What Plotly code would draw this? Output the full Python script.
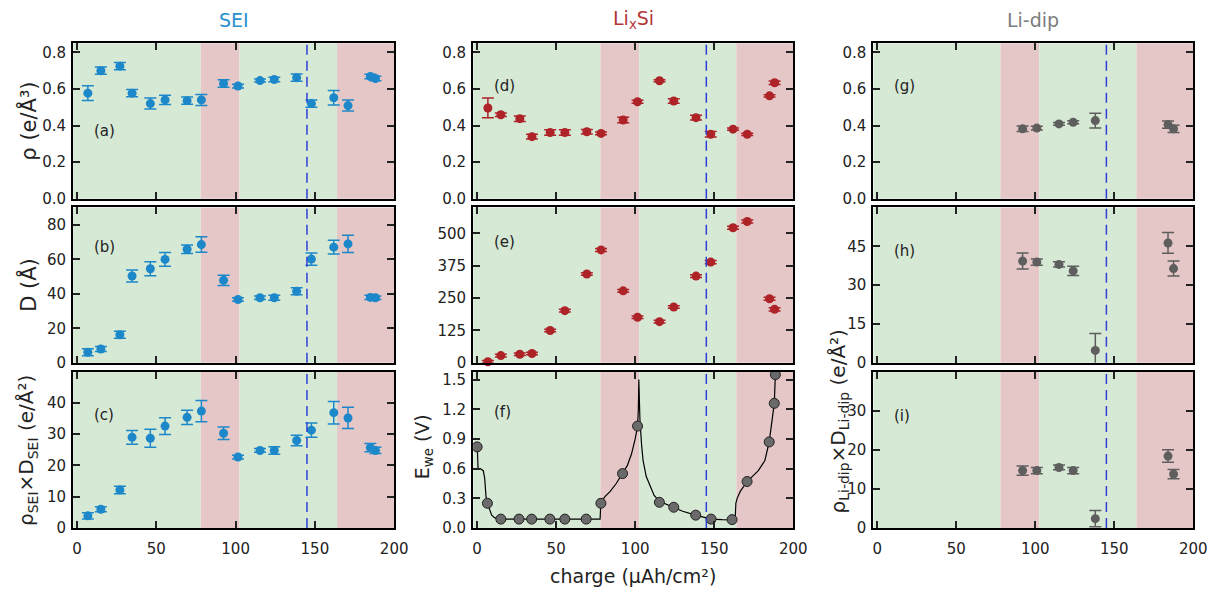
import plotly.graph_objects as go

# ---------------- data ----------------
charge = [6.8, 15, 27, 34.7, 46.2, 55.5, 69.4, 78.4, 92.4, 101.5, 115.4, 124.4, 138.5, 147.8, 161.9, 170.9, 185, 188.2]

sei_rho = [0.577, 0.70, 0.725, 0.577, 0.52, 0.54, 0.536, 0.54, 0.63, 0.616, 0.646, 0.652, 0.662, 0.52, 0.552, 0.509, 0.668, 0.657]
sei_rho_err = [0.04, 0.02, 0.02, 0.02, 0.03, 0.025, 0.02, 0.03, 0.02, 0.01, 0.008, 0.012, 0.02, 0.02, 0.04, 0.03, 0.012, 0.012]
sei_D = [6.1, 8.0, 16.3, 50.3, 54.5, 59.9, 65.8, 68.5, 47.8, 36.7, 37.7, 37.7, 41.5, 60.1, 67.0, 68.9, 37.9, 37.7]
sei_D_err = [2, 1.5, 2, 3.5, 4, 4, 2.5, 4.5, 3, 1, 1, 1.5, 2, 3.5, 4, 5, 1.2, 1]
sei_rD = [3.9, 6.0, 12.2, 29.0, 28.7, 32.6, 35.4, 37.4, 30.3, 22.7, 24.8, 24.8, 28.0, 31.3, 36.9, 35.2, 25.7, 24.8]
sei_rD_err = [1, 0.8, 1.2, 2.2, 2.9, 2.7, 2.3, 3.4, 2, 0.6, 0.6, 1.2, 1.7, 2.3, 3.6, 3.4, 1.3, 1]

lisi_rho = [0.496, 0.459, 0.4375, 0.339, 0.362, 0.362, 0.366, 0.357, 0.43, 0.53, 0.645, 0.534, 0.443, 0.352, 0.38, 0.352, 0.5625, 0.634]
lisi_rho_err = [0.054, 0.01, 0.015, 0.013, 0.015, 0.015, 0.012, 0.008, 0.015, 0.008, 0.006, 0.012, 0.013, 0.015, 0.006, 0.006, 0.006, 0.01]
lisi_D = [4, 28, 33, 36, 125, 201.5, 343, 436, 278, 176, 159, 215.6, 335, 389, 521.7, 546, 247.4, 206.6]
lisi_D_err = [5, 5, 5, 5, 5, 5, 5, 6, 5, 5, 5, 5, 5, 6, 6, 6, 6, 6]

ewe_x = [0, 6.5, 15, 26.5, 34.5, 46, 55.5, 69, 78.3, 92, 101.5, 115.3, 124.4, 138.3, 148, 161.3, 170.8, 184.8, 188, 188.7]
ewe_y = [0.82, 0.25, 0.09, 0.09, 0.09, 0.09, 0.09, 0.09, 0.25, 0.55, 1.03, 0.26, 0.21, 0.13, 0.09, 0.085, 0.47, 0.87, 1.26, 1.55]

curve_x = [0, 0.3, 0.6, 2, 3.9, 4.8, 5.6, 6.5, 7.5, 9.2, 11, 12.5, 15, 30, 50, 70, 77.8, 78.1, 78.3, 81, 84.2, 88, 92, 95,
           97.7, 100, 101.5, 102.0, 102.3, 102.5, 103, 104, 105, 107, 109.6, 112, 115.3, 120, 124.4, 130, 138.3, 143,
           148, 155, 161.3, 163.3, 163.7, 164.5, 166.5, 170.8, 174, 177.9, 182, 184.8, 186.7, 188, 188.7]
curve_y = [0.85, 0.62, 0.6, 0.6, 0.58, 0.5, 0.32, 0.25, 0.2, 0.13, 0.105, 0.095, 0.09, 0.09, 0.09, 0.09, 0.09, 0.2, 0.26,
           0.32, 0.37, 0.45, 0.55, 0.63, 0.75, 0.9, 1.03, 1.2, 1.5, 1.3, 1.1, 0.85, 0.68, 0.52, 0.42, 0.33, 0.27, 0.24,
           0.21, 0.17, 0.13, 0.11, 0.09, 0.085, 0.083, 0.09, 0.25, 0.3, 0.37, 0.47, 0.52, 0.58, 0.68, 0.87, 1.1, 1.26, 1.55]

lidip_x = [92, 101, 115, 124, 138, 184, 187.5]
lidip_rho = [0.382, 0.386, 0.409, 0.418, 0.427, 0.405, 0.382]
lidip_rho_err = [0.015, 0.01, 0.008, 0.008, 0.04, 0.02, 0.02]
lidip_D = [39.3, 38.9, 38.0, 35.5, 4.8, 46.3, 36.4]
lidip_D_err = [3.1, 1.2, 1, 1.8, 6.5, 4, 2.9]
lidip_rD = [14.7, 14.7, 15.5, 14.7, 2.4, 18.4, 13.8]
lidip_rD_err = [1.2, 0.8, 0.6, 0.8, 2.1, 1.6, 1.2]

x_ticks = [0, 50, 100, 150, 200]
regions = [(-2.5, 78, "green"), (78, 102.5, "red"), (102.5, 164, "green"), (164, 200, "red")]
dash_x = 145

# ---------------- style ----------------
W, H = 1232, 597
BLUE = "#1d88c9"
RED = "#ad2328"
GRAY = "#5e5e5e"
GREEN_BG = "#d6e9d5"
RED_BG = "#e5c7c7"
FONT = "DejaVu Sans"

col_x = [(73, 398), (478, 802), (883, 1207)]
row_y = [(43, 201), (210, 368), (377, 536)]

yspecs = {
    1: dict(range=[0, 0.85], tickvals=[0, 0.2, 0.4, 0.6, 0.8], tickformat=".1f"),
    2: dict(range=[0, 90], tickvals=[0, 20, 40, 60, 80]),
    3: dict(range=[0, 50], tickvals=[0, 10, 20, 30, 40]),
    4: dict(range=[0, 0.85], tickvals=[0, 0.2, 0.4, 0.6, 0.8], tickformat=".1f"),
    5: dict(range=[0, 600], tickvals=[0, 125, 250, 375, 500]),
    6: dict(range=[0, 1.58], tickvals=[0, 0.3, 0.6, 0.9, 1.2, 1.5], tickformat=".1f"),
    7: dict(range=[0, 0.85], tickvals=[0, 0.2, 0.4, 0.6, 0.8], tickformat=".1f"),
    8: dict(range=[0, 60], tickvals=[0, 15, 30, 45]),
    9: dict(range=[0, 40], tickvals=[0, 10, 20, 30]),
}

fig = go.Figure()
layout = dict(width=W, height=H, margin=dict(l=0, r=0, t=0, b=0), paper_bgcolor="white",
              plot_bgcolor="rgba(0,0,0,0)", showlegend=False, font=dict(family=FONT, size=15, color="#222"))
shapes = []
annotations = []

for c in range(3):
    for r in range(3):
        k = c * 3 + r + 1
        sfx = "" if k == 1 else str(k)
        x0, x1 = col_x[c]
        y0, y1 = row_y[r]
        layout["xaxis" + sfx] = dict(
            domain=[x0 / W, x1 / W], range=[-2.5, 200], tickvals=x_ticks,
            showticklabels=(r == 2), ticks="inside", ticklen=7, tickwidth=1.5, tickcolor="#222",
            ticklabelstandoff=6,
            showline=True, linewidth=2, linecolor="black", mirror="allticks",
            showgrid=False, zeroline=False, anchor="y" + sfx,
            tickfont=dict(family=FONT, size=15, color="#222"))
        ys = yspecs[k]
        layout["yaxis" + sfx] = dict(
            domain=[1 - y1 / H, 1 - y0 / H], ticks="inside", ticklen=7, tickwidth=1.5, tickcolor="#222",
            ticklabelstandoff=2,
            showline=True, linewidth=2, linecolor="black", mirror="allticks",
            showgrid=False, zeroline=False, anchor="x" + sfx,
            tickfont=dict(family=FONT, size=15, color="#222"), **ys)
        for a, b, kind in regions:
            shapes.append(dict(type="rect", xref="x" + sfx, yref="y" + sfx + " domain", x0=a, x1=b, y0=0, y1=1,
                               fillcolor=GREEN_BG if kind == "green" else RED_BG, line=dict(width=0), layer="below"))
        shapes.append(dict(type="line", xref="x" + sfx, yref="y" + sfx + " domain", x0=dash_x, x1=dash_x, y0=0, y1=1,
                           line=dict(color="#2f3fd8", width=1.5, dash="10px,6px"), layer="above"))


def add_err(k, x, y, e, color, size=9):
    sfx = "" if k == 1 else str(k)
    fig.add_trace(go.Scatter(x=x, y=y, mode="markers", xaxis="x" + sfx, yaxis="y" + sfx,
                             marker=dict(color=color, size=size),
                             error_y=dict(type="data", array=e, color=color, thickness=1.5, width=6),
                             cliponaxis=False))


add_err(1, charge, sei_rho, sei_rho_err, BLUE)
add_err(2, charge, sei_D, sei_D_err, BLUE)
add_err(3, charge, sei_rD, sei_rD_err, BLUE)
add_err(4, charge, lisi_rho, lisi_rho_err, RED)
add_err(5, charge, lisi_D, lisi_D_err, RED)
fig.add_trace(go.Scatter(x=curve_x, y=curve_y, mode="lines", xaxis="x6", yaxis="y6",
                         line=dict(color="black", width=1.2)))
fig.add_trace(go.Scatter(x=ewe_x, y=ewe_y, mode="markers", xaxis="x6", yaxis="y6",
                         marker=dict(color="#6a6a6a", size=10, line=dict(color="#222", width=1))))
add_err(7, lidip_x, lidip_rho, lidip_rho_err, GRAY)
add_err(8, lidip_x, lidip_D, lidip_D_err, GRAY)
add_err(9, lidip_x, lidip_rD, lidip_rD_err, GRAY)

# panel letters
letters = [(1, "(a)", 0.37), (2, "(b)", 67), (3, "(c)", 36), (4, "(d)", 0.616), (5, "(e)", 465),
           (6, "(f)", 1.17), (7, "(g)", 0.617), (8, "(h)", 43.2), (9, "(i)", 28.7)]
for k, t, yv in letters:
    sfx = "" if k == 1 else str(k)
    annotations.append(dict(x=9.5, y=yv, xref="x" + sfx, yref="y" + sfx, text=t, showarrow=False,
                            xanchor="left", yanchor="middle", font=dict(family=FONT, size=15, color="#222")))


def pann(x, y, text, size=20, color="#222", angle=0):
    annotations.append(dict(x=x / W, y=1 - y / H, xref="paper", yref="paper", text=text, showarrow=False,
                            xanchor="center", yanchor="middle", textangle=angle,
                            font=dict(family=FONT, size=size, color=color)))


pann(236, 19, "SEI", 19, "#2a90d0")
pann(640, 19, "Li<sub>x</sub>Si", 19, "#b3363a")
pann(1045, 19, "Li-dip", 19, "#7c7c7c")
pann(27, 122, "ρ (e/Å³)", 21, angle=-90)
pann(27, 289, "D (Å)", 21, angle=-90)
pann(27, 457, "ρ<sub>SEI</sub>×D<sub>SEI</sub> (e/Å²)", 20, angle=-90)
pann(428, 453, "E<sub>we</sub> (V)", 19, angle=-90)
pann(848, 428, "ρ<sub>Li-dip</sub>×D<sub>Li-dip</sub> (e/Å²)", 20, angle=-90)
pann(640, 585, "charge (µAh/cm²)", 19)

layout["shapes"] = shapes
layout["annotations"] = annotations
fig.update_layout(**layout)
fig.write_html("out.html")
